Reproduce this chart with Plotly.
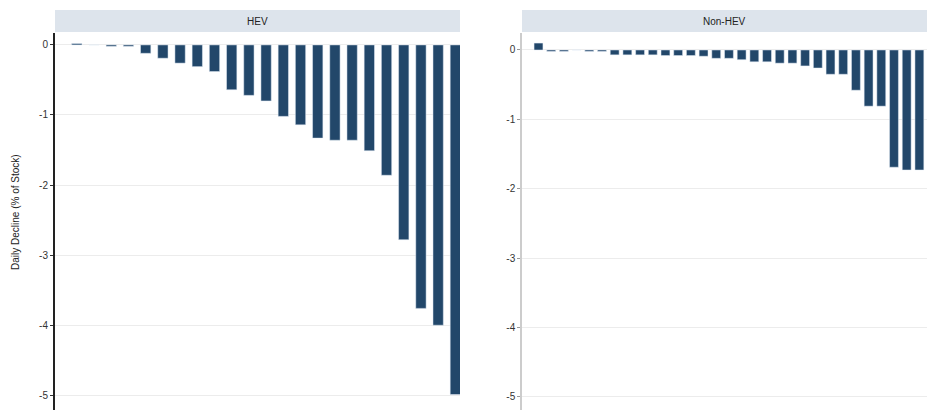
import plotly.graph_objects as go

# ---- data ----
left_title = "HEV"
right_title = "Non-HEV"
y_title = "Daily Decline (% of Stock)"

left_ids = [str(i) for i in range(1, 24)]
left_values = [0.02, 0.0, -0.02, -0.02, -0.12, -0.19, -0.26, -0.31, -0.38, -0.64,
               -0.72, -0.80, -1.02, -1.14, -1.33, -1.36, -1.36, -1.51, -1.86,
               -2.78, -3.76, -4.00, -4.99]

right_ids = [str(i) for i in range(1, 32)]
right_values = [0.10, -0.02, -0.02, 0.0, -0.02, -0.02, -0.07, -0.07, -0.07, -0.07,
                -0.08, -0.08, -0.08, -0.09, -0.12, -0.12, -0.14, -0.17, -0.17,
                -0.19, -0.19, -0.23, -0.26, -0.35, -0.35, -0.58, -0.81, -0.81,
                -1.69, -1.73, -1.73]

tick_vals = [0, -1, -2, -3, -4, -5]
tick_text = ["0", "-1", "-2", "-3", "-4", "-5"]

bar_color = "#22476a"
W, H = 927, 410

fig = go.Figure()
fig.add_trace(go.Bar(x=left_ids, y=left_values, marker_color=bar_color,
                     width=0.6, xaxis="x", yaxis="y", showlegend=False))
fig.add_trace(go.Bar(x=right_ids, y=right_values, marker_color=bar_color,
                     width=0.7, xaxis="x2", yaxis="y2", showlegend=False))

top_plot = 33
ydom = [0, (H - top_plot) / H]
lx = [55 / W, 460 / W]
rx = [522 / W, 1.0]

axis_common = dict(tickmode="array", tickvals=tick_vals, ticktext=tick_text,
                   showgrid=True, gridcolor="#ececec", gridwidth=1,
                   zeroline=False, ticks="outside", ticklen=3,
                   tickfont=dict(family="Liberation Sans", size=10, color="#333333"))

fig.update_layout(
    width=W, height=H,
    margin=dict(l=0, r=0, t=0, b=0),
    paper_bgcolor="white", plot_bgcolor="white",
    bargap=0.3,
    xaxis=dict(domain=lx, type="category", range=[-1.27, 22.27],
               showticklabels=False, showgrid=False, zeroline=False, anchor="y"),
    xaxis2=dict(domain=rx, type="category", range=[-1.3, 30.6],
                showticklabels=False, showgrid=False, zeroline=False, anchor="y2"),
    yaxis=dict(domain=ydom, range=[-5.21, 0.17], anchor="x",
               showline=True, linecolor="#222222", linewidth=2,
               tickcolor="#333333", **axis_common),
    yaxis2=dict(domain=ydom, range=[-5.19, 0.245], anchor="x2",
                showline=True, linecolor="#cccccc", linewidth=1.5,
                tickcolor="#999999", **axis_common),
)

# facet strips
strip_bottom = (H - 32) / H
strip_top = (H - 10) / H
for (x0, x1), title in [(lx, left_title), (rx, right_title)]:
    fig.add_shape(type="rect", xref="paper", yref="paper",
                  x0=x0, x1=x1, y0=strip_bottom, y1=strip_top,
                  fillcolor="#dde4ec", line=dict(width=0), layer="below")
    fig.add_annotation(xref="paper", yref="paper", x=(x0 + x1) / 2,
                       y=(strip_bottom + strip_top) / 2, text=title,
                       showarrow=False, xanchor="center", yanchor="middle",
                       font=dict(family="Liberation Sans", size=10, color="#222222"))

fig.add_annotation(xref="paper", yref="paper", x=15 / W, y=(H - 212) / H,
                   text=y_title, textangle=-90, showarrow=False,
                   xanchor="center", yanchor="middle",
                   font=dict(family="Liberation Sans", size=10, color="#222222"))

fig.write_html("out.html")
